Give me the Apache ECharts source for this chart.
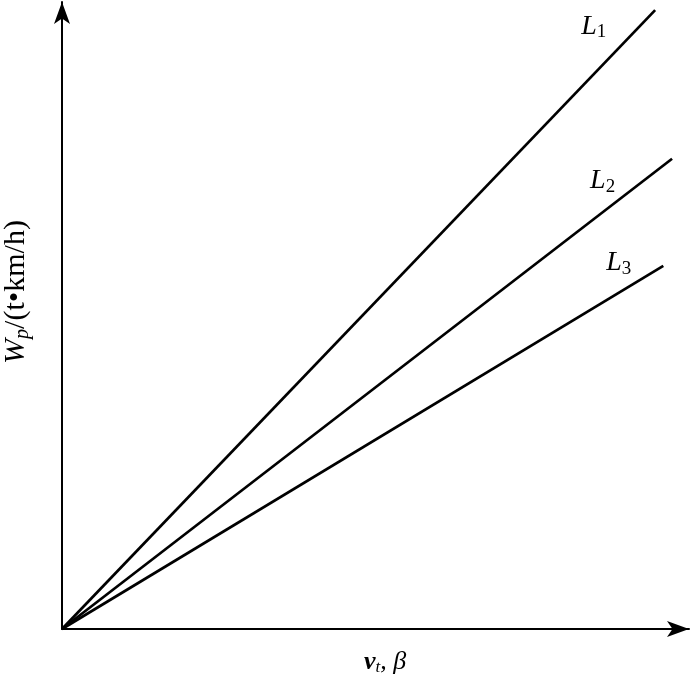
<!DOCTYPE html>
<html>
<head>
<meta charset="utf-8">
<script src="https://cdn.jsdelivr.net/npm/echarts@6/dist/echarts.min.js"></script>
<style>html,body{margin:0;padding:0;background:#fff}#c{width:690px;height:682px}</style>
</head>
<body>
<div id="c"></div>
<script>
// Data (arbitrary units)
var seriesNames = ['L1', 'L2', 'L3'];
var subscripts = ['1', '2', '3'];
var lineL1 = [[0, 0], [9.46, 9.87]];
var lineL2 = [[0, 0], [9.73, 7.50]];
var lineL3 = [[0, 0], [9.59, 5.79]];
var xAxisTitle = ['v', 't', ', β'];
var yAxisTitle = ['W', 'p', '/(t•km/h)'];

var serif = '"Liberation Serif", "DejaVu Serif", serif';
var labelOffsets = [[-74, 16], [-82, 22], [-57, -3]];
var allLines = [lineL1, lineL2, lineL3];

var chart = echarts.init(document.getElementById('c'));
var series = allLines.map(function (d, i) {
  return {
    name: seriesNames[i],
    type: 'line',
    data: d,
    symbol: 'none',
    showSymbol: false,
    clip: false,
    lineStyle: { color: '#000', width: 2.7 },
    emphasis: { disabled: true },
    silent: true,
    endLabel: {
      show: true,
      distance: 0,
      offset: labelOffsets[i],
      formatter: '{a|L}{b|' + subscripts[i] + '}',
      rich: {
        a: { fontFamily: serif, fontStyle: 'italic', fontSize: 28, color: '#000' },
        b: { fontFamily: serif, fontSize: 19, color: '#000', padding: [12, 0, 0, 0] }
      }
    }
  };
});

chart.setOption({
  animation: false,
  backgroundColor: '#fff',
  grid: { left: 62, right: 1, top: 2, bottom: 53, containLabel: false },
  xAxis: {
    type: 'value', min: 0, max: 10,
    axisLine: { show: true, lineStyle: { color: '#000', width: 2 }, symbol: ['none', 'arrow'], symbolSize: [12, 22] },
    axisTick: { show: false }, axisLabel: { show: false }, splitLine: { show: false }
  },
  yAxis: {
    type: 'value', min: 0, max: 10,
    axisLine: { show: true, lineStyle: { color: '#000', width: 2 }, symbol: ['none', 'arrow'], symbolSize: [12, 22] },
    axisTick: { show: false }, axisLabel: { show: false }, splitLine: { show: false }
  },
  graphic: [
    {
      type: 'text', x: 385, y: 662,
      style: {
        text: '{a|' + xAxisTitle[0] + '}{b|' + xAxisTitle[1] + '}{c|' + xAxisTitle[2] + '}',
        align: 'center', verticalAlign: 'middle',
        rich: {
          a: { fontFamily: serif, fontStyle: 'italic', fontWeight: 'bold', fontSize: 26, fill: '#000' },
          b: { fontFamily: serif, fontStyle: 'italic', fontSize: 17, fill: '#000', padding: [12, 0, 0, 0] },
          c: { fontFamily: serif, fontStyle: 'italic', fontSize: 26, fill: '#000' }
        }
      }
    },
    {
      type: 'text', x: 16, y: 292, rotation: Math.PI / 2,
      style: {
        text: '{a|' + yAxisTitle[0] + '}{b|' + yAxisTitle[1] + '}{c|' + yAxisTitle[2] + '}',
        align: 'center', verticalAlign: 'middle',
        rich: {
          a: { fontFamily: serif, fontStyle: 'italic', fontSize: 30, fill: '#000' },
          b: { fontFamily: serif, fontStyle: 'italic', fontSize: 20, fill: '#000', padding: [13, 0, 0, 0] },
          c: { fontFamily: serif, fontSize: 30, fill: '#000' }
        }
      }
    }
  ],
  series: series
});
</script>
</body>
</html>
